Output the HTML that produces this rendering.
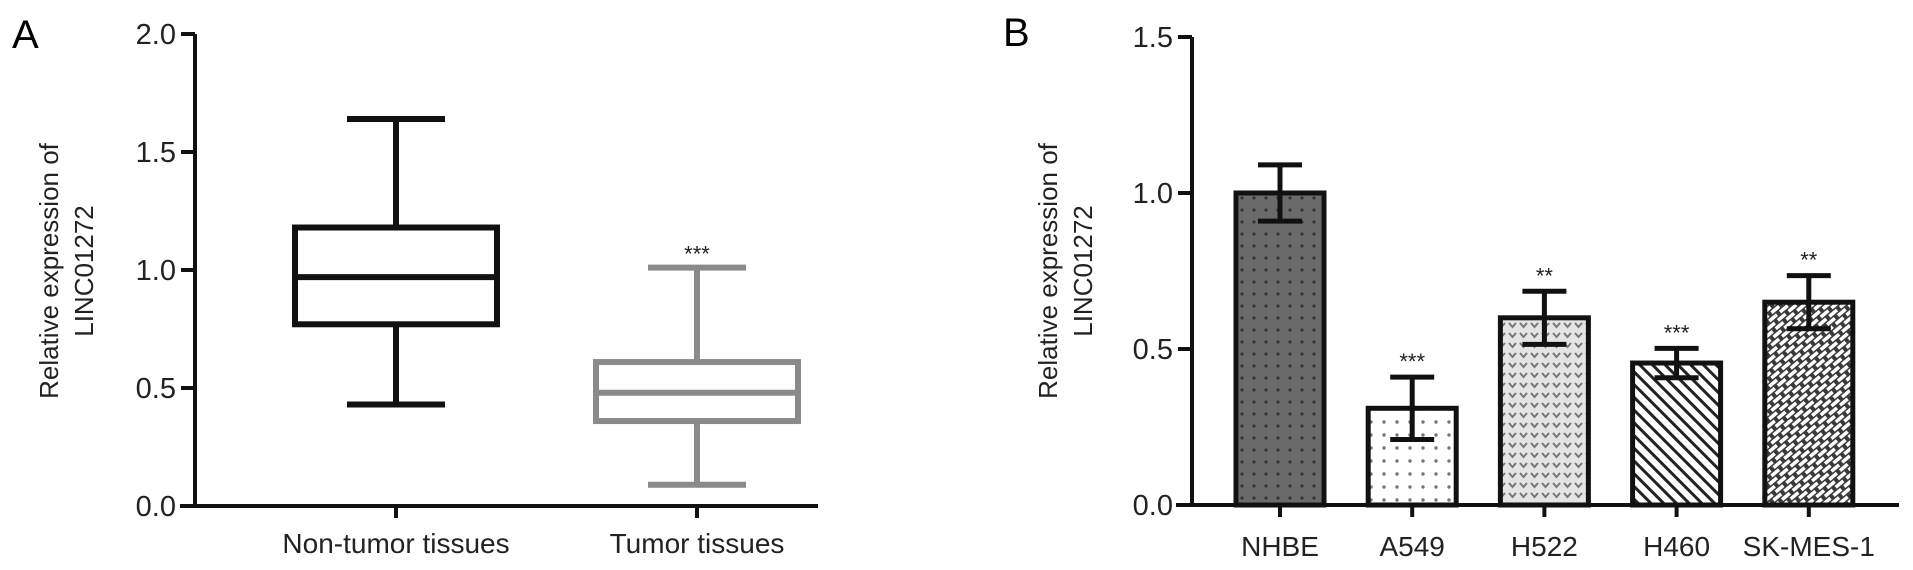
<!DOCTYPE html>
<html><head><meta charset="utf-8"><style>
html,body{margin:0;padding:0;background:#fff;}
svg{display:block;font-family:"Liberation Sans",Arial,sans-serif;}
</style></head><body>
<svg id="fig" width="1913" height="570" viewBox="0 0 1913 570">
<defs>
<pattern id="pNHBE" width="12" height="12" patternUnits="userSpaceOnUse"><rect width="12" height="12" fill="#6a6a6a"/><circle cx="6" cy="6" r="1.6" fill="#333"/></pattern>
<pattern id="pA549" width="13" height="13" patternUnits="userSpaceOnUse"><rect width="13" height="13" fill="#fff"/><circle cx="6" cy="6" r="1.7" fill="#777"/></pattern>
<pattern id="pH522" width="11" height="10" patternUnits="userSpaceOnUse"><rect width="11" height="10" fill="#e4e4e4"/><path d="M2,3 L5.5,7 L9,3" stroke="#777" stroke-width="2" fill="none"/></pattern>
<pattern id="pH460" width="9" height="9" patternUnits="userSpaceOnUse" patternTransform="rotate(-45)"><rect width="9" height="9" fill="#fff"/><rect width="3" height="9" fill="#222"/></pattern>
<pattern id="pSK" width="14" height="10" patternUnits="userSpaceOnUse" patternTransform="rotate(-40)"><rect width="14" height="10" fill="#3a3a3a"/><rect x="1" y="1.5" width="10" height="3.5" fill="#fff"/><rect x="8" y="6.5" width="10" height="3.5" fill="#fff"/><rect x="-6" y="6.5" width="10" height="3.5" fill="#fff"/></pattern>
</defs>
<g id="panelA"></g>
<g id="panelB"></g>
</svg>
<script>
// Panel A data
const boxCategories = ["Non-tumor tissues", "Tumor tissues"];
const boxMin = [0.43, 0.09];
const boxQ1 = [0.77, 0.36];
const boxMedian = [0.97, 0.48];
const boxQ3 = [1.18, 0.61];
const boxMax = [1.64, 1.01];
const boxSig = ["", "***"];
const aTicks = [0.0, 0.5, 1.0, 1.5, 2.0];
// Panel B data
const barCategories = ["NHBE", "A549", "H522", "H460", "SK-MES-1"];
const barMeans = [1.0, 0.31, 0.60, 0.455, 0.65];
const barErr = [0.09, 0.10, 0.085, 0.047, 0.085];
const barSig = ["", "***", "**", "***", "**"];
const bTicks = [0.0, 0.5, 1.0, 1.5];

const NS = "http://www.w3.org/2000/svg";
function mk(parent, tag, attrs, text) {
  const e = document.createElementNS(NS, tag);
  for (const k in attrs) e.setAttribute(k, attrs[k]);
  if (text !== undefined) e.textContent = text;
  parent.appendChild(e);
  return e;
}
// ---- Panel A ----
const gA = document.getElementById("panelA");
const yA = v => 506 - v * 236;
const xA = i => 396 + i * 301;
let t;
t = mk(gA, "text", {x: 12, y: 48, "font-size": 40}, "A");


let ax = mk(gA, "path", {d: `M195,${yA(2)} V${yA(0)} M180,${yA(0)} H818`, stroke: "#111", "stroke-width": 4, fill: "none"});


aTicks.forEach(v => {
  const l = mk(gA, "line", {x1: 181, x2: 195, y1: yA(v), y2: yA(v), stroke: "#111", "stroke-width": 4});
  
  
  const tx = mk(gA, "text", {x: 176, y: yA(v) + 10, "font-size": 29, "text-anchor": "end", fill: "#222"}, v.toFixed(1));
  
  
});
t = mk(gA, "text", {transform: "translate(58,271) rotate(-90)", "font-size": 26, "text-anchor": "middle", fill: "#222"}, "Relative expression of");


t = mk(gA, "text", {transform: "translate(93,271) rotate(-90)", "font-size": 26, "text-anchor": "middle", fill: "#222"}, "LINC01272");


boxCategories.forEach((c, i) => {
  const cx = xA(i), col = i === 0 ? "#111" : "#8a8a8a";
  const g = mk(gA, "g", {stroke: col, "stroke-width": 6, fill: "none"});
  
  
  mk(g, "line", {x1: cx, x2: cx, y1: yA(boxMax[i]), y2: yA(boxQ3[i])});
  mk(g, "line", {x1: cx, x2: cx, y1: yA(boxQ1[i]), y2: yA(boxMin[i])});
  mk(g, "line", {x1: cx - 49, x2: cx + 49, y1: yA(boxMax[i]), y2: yA(boxMax[i])});
  mk(g, "line", {x1: cx - 49, x2: cx + 49, y1: yA(boxMin[i]), y2: yA(boxMin[i])});
  mk(g, "rect", {x: cx - 101, y: yA(boxQ3[i]), width: 202, height: yA(boxQ1[i]) - yA(boxQ3[i])});
  mk(g, "line", {x1: cx - 101, x2: cx + 101, y1: yA(boxMedian[i]), y2: yA(boxMedian[i])});
  const tk = mk(gA, "line", {x1: cx, x2: cx, y1: yA(0), y2: yA(0) + 12, stroke: "#111", "stroke-width": 4});
  
  
  const lb = mk(gA, "text", {x: cx, y: 553, "font-size": 28, "text-anchor": "middle", fill: "#222"}, c);
  
  
  if (boxSig[i]) {
    const s = mk(gA, "text", {x: cx, y: yA(boxMax[i]) - 6, "font-size": 22, "text-anchor": "middle", fill: "#222"}, boxSig[i]);
    
    
  }
});
// ---- Panel B ----
const gB = document.getElementById("panelB");
const yB = v => 505 - v * 312;
const xB = i => 1280 + i * 132.2;
const fills = ["url(#pNHBE)", "url(#pA549)", "url(#pH522)", "url(#pH460)", "url(#pSK)"];
t = mk(gB, "text", {x: 1003, y: 46, "font-size": 40}, "B");


t = mk(gB, "text", {transform: "translate(1057,271) rotate(-90)", "font-size": 26, "text-anchor": "middle", fill: "#222"}, "Relative expression of");


t = mk(gB, "text", {transform: "translate(1092,271) rotate(-90)", "font-size": 26, "text-anchor": "middle", fill: "#222"}, "LINC01272");


barCategories.forEach((c, i) => {
  const cx = xB(i);
  const r = mk(gB, "rect", {x: cx - 44, y: yB(barMeans[i]), width: 88, height: yB(0) - yB(barMeans[i]), fill: fills[i], stroke: "#111", "stroke-width": 5});
  
  
  const hi = yB(barMeans[i] + barErr[i]), lo = yB(barMeans[i] - barErr[i]);
  const e = mk(gB, "path", {d: `M${cx},${hi} V${lo} M${cx-22},${hi} H${cx+22} M${cx-22},${lo} H${cx+22}`, stroke: "#111", "stroke-width": 5, fill: "none"});
  
  
  if (barSig[i]) {
    const s = mk(gB, "text", {x: cx, y: hi - 8, "font-size": 22, "text-anchor": "middle", fill: "#222"}, barSig[i]);
    
    
  }
  const tk = mk(gB, "line", {x1: cx, x2: cx, y1: yB(0), y2: yB(0) + 12, stroke: "#111", "stroke-width": 4});
  
  
  const lb = mk(gB, "text", {x: cx, y: 556, "font-size": 28, "text-anchor": "middle", fill: "#222"}, c);
  
  
});
ax = mk(gB, "path", {d: `M1192,${yB(1.5)} V${yB(0)} M1176,${yB(0)} H1899`, stroke: "#111", "stroke-width": 4, fill: "none"});


bTicks.forEach(v => {
  const l = mk(gB, "line", {x1: 1178, x2: 1192, y1: yB(v), y2: yB(v), stroke: "#111", "stroke-width": 4});
  
  
  const tx = mk(gB, "text", {x: 1173, y: yB(v) + 10, "font-size": 29, "text-anchor": "end", fill: "#222"}, v.toFixed(1));
  
  
});
</script>
</body></html>
